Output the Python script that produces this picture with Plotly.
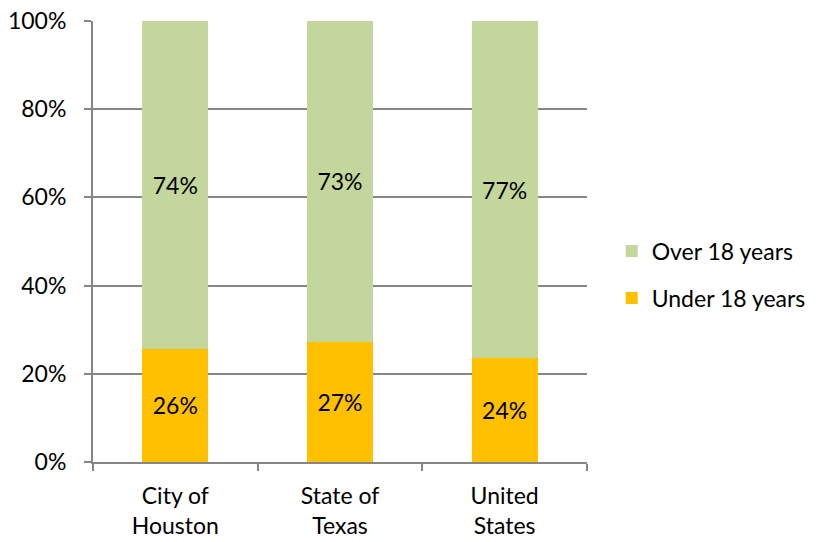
import plotly.graph_objects as go

categories = ["City of<br>Houston", "State of<br>Texas", "United<br>States"]
under_18 = [25.7, 27.3, 23.5]
over_18 = [74.3, 72.7, 76.5]
under_labels = ["26%", "27%", "24%"]
over_labels = ["74%", "73%", "77%"]
y_ticks = [0, 20, 40, 60, 80, 100]
y_tick_labels = ["0%", "20%", "40%", "60%", "80%", "100%"]

FONT = "Lato, 'Open Sans', sans-serif"
FS = 23
GRID = "#868686"

fig = go.Figure()
fig.add_trace(go.Bar(
    x=categories, y=under_18, name="Under 18 years", legendgroup="u", legendrank=2,
    marker=dict(color="#FFC000", line=dict(width=0)),
    text=under_labels, textposition="inside", insidetextanchor="middle",
    textangle=0, textfont=dict(color="black", size=FS, family=FONT),
))
fig.add_trace(go.Bar(
    x=categories, y=over_18, name="Over 18 years", legendgroup="o", legendrank=1,
    marker=dict(color="#C3D69B", line=dict(width=0)),
    text=over_labels, textposition="inside", insidetextanchor="middle",
    textangle=0, textfont=dict(color="black", size=FS, family=FONT),
))

fig.update_layout(
    barmode="stack",
    bargap=0.6,
    width=817, height=542,
    margin=dict(l=93, r=230, t=21, b=80, autoexpand=False),
    plot_bgcolor="white", paper_bgcolor="white",
    font=dict(family=FONT, size=FS, color="black"),
    showlegend=True,
    legend=dict(
        x=1.05, y=0.425, xanchor="left", yanchor="middle",
        traceorder="grouped", font=dict(size=FS, family=FONT),
        tracegroupgap=14, itemwidth=30,
    ),
    uniformtext=dict(mode=False),
)
fig.update_xaxes(
    type="category", tickson="boundaries", ticks="outside", ticklen=7,
    tickcolor=GRID, tickwidth=2, showline=True, linecolor=GRID, linewidth=2,
    showgrid=False, tickfont=dict(size=FS, family=FONT, color="black"),
    range=[-0.5, 2.5], automargin=False, ticklabelstandoff=12,
)
fig.update_yaxes(
    range=[0, 100], tickvals=y_ticks, ticktext=y_tick_labels,
    ticks="outside", ticklen=7, tickcolor=GRID, tickwidth=2,
    showline=True, linecolor=GRID, linewidth=2,
    showgrid=True, gridcolor=GRID, gridwidth=2,
    tickfont=dict(size=FS, family=FONT, color="black"),
    zeroline=False, automargin=False, ticklabelstandoff=13,
)

fig.write_html("out.html", config={"displayModeBar": False},
               post_script="document.body.style.margin='0px';")
